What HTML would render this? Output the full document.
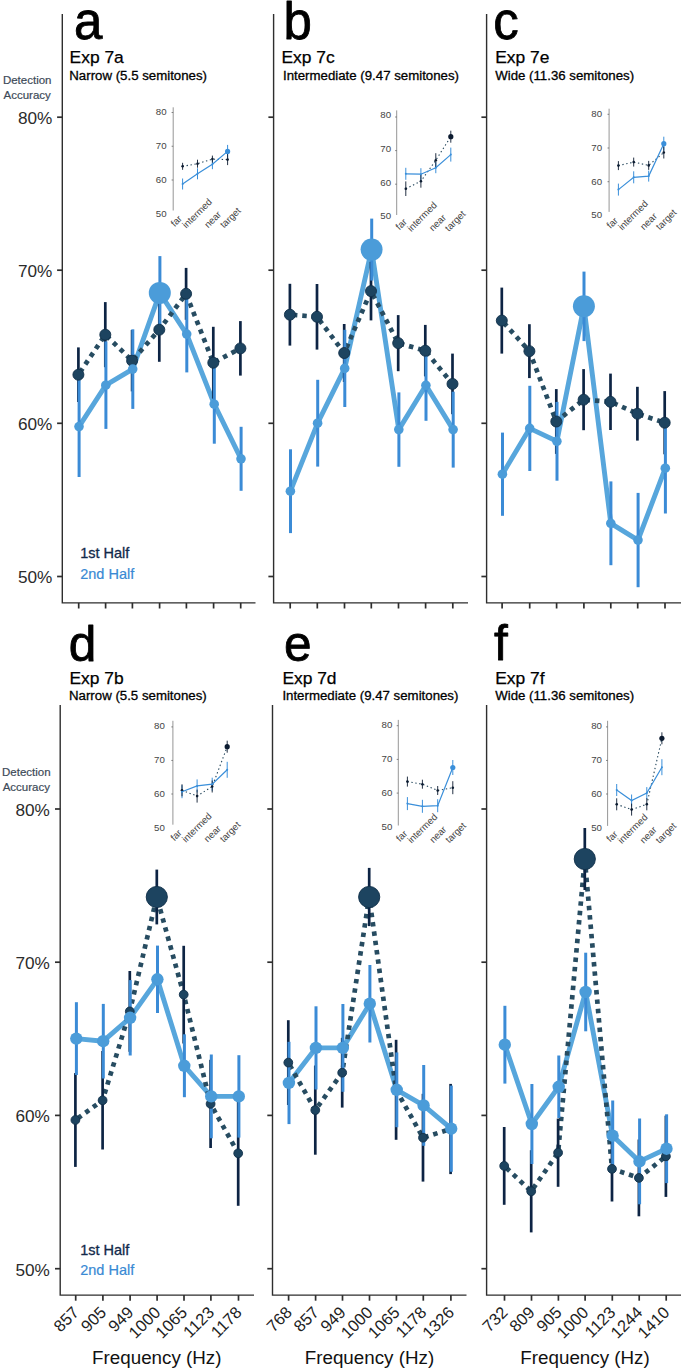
<!DOCTYPE html>
<html><head><meta charset="utf-8"><title>Figure</title>
<style>html,body{margin:0;padding:0;background:#fff}svg{display:block}</style>
</head><body>
<svg width="685" height="1370" viewBox="0 0 685 1370" font-family="Liberation Sans, Arial, Helvetica, sans-serif">
<rect width="685" height="1370" fill="#fff"/>
<g stroke="#2e2e2e" stroke-width="1.4" fill="none">
<path d="M62.3 14V602.9H255.5"/>
<path d="M57.099999999999994 117.2H62.3" stroke-width="1.7"/>
<path d="M57.099999999999994 270.2H62.3" stroke-width="1.7"/>
<path d="M57.099999999999994 423.3H62.3" stroke-width="1.7"/>
<path d="M57.099999999999994 576.5H62.3" stroke-width="1.7"/>
<path d="M78.7 602.9v5.6" stroke-width="1.7"/>
<path d="M105.6 602.9v5.6" stroke-width="1.7"/>
<path d="M132.4 602.9v5.6" stroke-width="1.7"/>
<path d="M159.60000000000002 602.9v5.6" stroke-width="1.7"/>
<path d="M186.4 602.9v5.6" stroke-width="1.7"/>
<path d="M213.60000000000002 602.9v5.6" stroke-width="1.7"/>
<path d="M240.70000000000002 602.9v5.6" stroke-width="1.7"/>
</g>
<path d="M79 426.6L105.8 385.2L132.7 369.1L159.8 292.9L186.7 334.1L214.2 404.2L241 458.8" fill="none" stroke="#57a6dc" stroke-width="4.9" stroke-linejoin="round" stroke-linecap="round"/>
<path d="M78.4 374.7L105.3 334.7L132.1 360.7L159.3 329.7L186.1 293.8L213.3 362.7L240.4 348.4" fill="none" stroke="#274c61" stroke-width="4.7" stroke-dasharray="4.5 4.9" stroke-dashoffset="-3" stroke-linejoin="round"/>
<g stroke="#0d2444" stroke-width="2.7">
<path d="M78.4 347.4V402.0"/>
<path d="M105.3 302.1V367.2"/>
<path d="M132.1 330.0V391.4"/>
<path d="M159.3 297.6V361.8"/>
<path d="M186.1 267.9V319.8"/>
<path d="M213.3 326.8V398.6"/>
<path d="M240.4 321.1V375.6"/>
</g>
<g stroke="#3b8bd6" stroke-width="3.0">
<path d="M79.1 376.2V477.0"/>
<path d="M105.89999999999999 341.4V428.9"/>
<path d="M132.79999999999998 329.3V408.9"/>
<path d="M159.9 256.1V329.7"/>
<path d="M186.79999999999998 295.8V372.4"/>
<path d="M214.29999999999998 364.7V443.7"/>
<path d="M241.1 426.8V490.8"/>
</g>
<g fill="#1d4460" stroke="#11304a" stroke-width="0.9">
<circle cx="78.4" cy="374.7" r="5.5"/>
<circle cx="105.3" cy="334.7" r="5.5"/>
<circle cx="132.1" cy="360.7" r="5.5"/>
<circle cx="159.3" cy="329.7" r="5.5"/>
<circle cx="186.1" cy="293.8" r="5.5"/>
<circle cx="213.3" cy="362.7" r="5.5"/>
<circle cx="240.4" cy="348.4" r="5.5"/>
</g>
<g fill="#4b9cd9">
<circle cx="79" cy="426.6" r="4.8"/>
<circle cx="105.8" cy="385.2" r="4.8"/>
<circle cx="132.7" cy="369.1" r="4.8"/>
<circle cx="159.8" cy="292.9" r="11"/>
<circle cx="186.7" cy="334.1" r="4.8"/>
<circle cx="214.2" cy="404.2" r="4.8"/>
<circle cx="241" cy="458.8" r="4.8"/>
</g>
<text x="73.9" y="39.2" font-size="51" fill="#000" stroke="#000" stroke-width="0.8" stroke-linejoin="round">a</text>
<text x="69.6" y="63.2" font-size="17.4" fill="#000" stroke="#000" stroke-width="0.25">Exp 7a</text>
<text x="69.3" y="79.7" font-size="13.25" fill="#000" stroke="#000" stroke-width="0.3">Narrow (5.5 semitones)</text>
<g stroke="#2e2e2e" stroke-width="1.4" fill="none">
<path d="M273.6 14V602.9H468"/>
<path d="M268.40000000000003 117.2H273.6" stroke-width="1.7"/>
<path d="M268.40000000000003 270.2H273.6" stroke-width="1.7"/>
<path d="M268.40000000000003 423.3H273.6" stroke-width="1.7"/>
<path d="M268.40000000000003 576.5H273.6" stroke-width="1.7"/>
<path d="M290.2 602.9v5.6" stroke-width="1.7"/>
<path d="M317.3 602.9v5.6" stroke-width="1.7"/>
<path d="M344.5 602.9v5.6" stroke-width="1.7"/>
<path d="M371.3 602.9v5.6" stroke-width="1.7"/>
<path d="M398.5 602.9v5.6" stroke-width="1.7"/>
<path d="M425.6 602.9v5.6" stroke-width="1.7"/>
<path d="M452.8 602.9v5.6" stroke-width="1.7"/>
</g>
<path d="M290.4 491.2L317.6 423.2L344.7 368.4L371.6 249.6L398.8 429.6L425.9 385.3L453.1 429.6" fill="none" stroke="#57a6dc" stroke-width="4.9" stroke-linejoin="round" stroke-linecap="round"/>
<path d="M289.9 314.7L317 316.8L344.2 353L371 291.1L398.2 343.1L425.3 350.7L452.5 383.9" fill="none" stroke="#274c61" stroke-width="4.7" stroke-dasharray="4.5 4.9" stroke-dashoffset="-3" stroke-linejoin="round"/>
<g stroke="#0d2444" stroke-width="2.7">
<path d="M289.9 283.8V345.6"/>
<path d="M317 284.0V349.6"/>
<path d="M344.2 324.0V382.0"/>
<path d="M371 261.8V320.4"/>
<path d="M398.2 315.1V371.2"/>
<path d="M425.3 324.9V376.4"/>
<path d="M452.5 353.6V414.2"/>
</g>
<g stroke="#3b8bd6" stroke-width="3.0">
<path d="M290.5 449.3V533.1"/>
<path d="M317.70000000000005 379.8V466.6"/>
<path d="M344.8 329.8V407.0"/>
<path d="M371.70000000000005 218.6V280.6"/>
<path d="M398.90000000000003 392.4V466.8"/>
<path d="M426.0 349.9V420.8"/>
<path d="M453.20000000000005 391.7V467.6"/>
</g>
<g fill="#1d4460" stroke="#11304a" stroke-width="0.9">
<circle cx="289.9" cy="314.7" r="5.5"/>
<circle cx="317" cy="316.8" r="5.5"/>
<circle cx="344.2" cy="353" r="5.5"/>
<circle cx="371" cy="291.1" r="5.5"/>
<circle cx="398.2" cy="343.1" r="5.5"/>
<circle cx="425.3" cy="350.7" r="5.5"/>
<circle cx="452.5" cy="383.9" r="5.5"/>
</g>
<g fill="#4b9cd9">
<circle cx="290.4" cy="491.2" r="4.8"/>
<circle cx="317.6" cy="423.2" r="4.8"/>
<circle cx="344.7" cy="368.4" r="4.8"/>
<circle cx="371.6" cy="249.6" r="11"/>
<circle cx="398.8" cy="429.6" r="4.8"/>
<circle cx="425.9" cy="385.3" r="4.8"/>
<circle cx="453.1" cy="429.6" r="4.8"/>
</g>
<text x="283.4" y="39.2" font-size="51" fill="#000" stroke="#000" stroke-width="0.8" stroke-linejoin="round">b</text>
<text x="281.5" y="63.2" font-size="17.4" fill="#000" stroke="#000" stroke-width="0.25">Exp 7c</text>
<text x="283.0" y="79.7" font-size="13.25" fill="#000" stroke="#000" stroke-width="0.3">Intermediate (9.47 semitones)</text>
<g stroke="#2e2e2e" stroke-width="1.4" fill="none">
<path d="M486.6 14V602.9H681"/>
<path d="M481.40000000000003 117.2H486.6" stroke-width="1.7"/>
<path d="M481.40000000000003 270.2H486.6" stroke-width="1.7"/>
<path d="M481.40000000000003 423.3H486.6" stroke-width="1.7"/>
<path d="M481.40000000000003 576.5H486.6" stroke-width="1.7"/>
<path d="M502.1 602.9v5.6" stroke-width="1.7"/>
<path d="M529.6999999999999 602.9v5.6" stroke-width="1.7"/>
<path d="M556.5999999999999 602.9v5.6" stroke-width="1.7"/>
<path d="M583.9 602.9v5.6" stroke-width="1.7"/>
<path d="M610.8 602.9v5.6" stroke-width="1.7"/>
<path d="M637.6999999999999 602.9v5.6" stroke-width="1.7"/>
<path d="M665.0 602.9v5.6" stroke-width="1.7"/>
</g>
<path d="M502.4 474.2L529.7 428.4L556.9 441.3L583.9 306.3L610.8 523.3L638 540.1L665.3 468.2" fill="none" stroke="#57a6dc" stroke-width="4.9" stroke-linejoin="round" stroke-linecap="round"/>
<path d="M501.8 320.6L529.4 351.2L556.3 421.5L583.6 399.7L610.5 401.8L637.4 413.7L664.7 422.7" fill="none" stroke="#274c61" stroke-width="4.7" stroke-dasharray="4.5 4.9" stroke-dashoffset="-3" stroke-linejoin="round"/>
<g stroke="#0d2444" stroke-width="2.7">
<path d="M501.8 287.6V353.6"/>
<path d="M529.4 324.2V378.1"/>
<path d="M556.3 389.1V453.9"/>
<path d="M583.6 369.1V430.2"/>
<path d="M610.5 373.6V430.0"/>
<path d="M637.4 386.8V440.6"/>
<path d="M664.7 391.1V454.3"/>
</g>
<g stroke="#3b8bd6" stroke-width="3.0">
<path d="M502.5 432.6V515.8"/>
<path d="M529.8000000000001 385.8V471.0"/>
<path d="M557.0 401.9V480.7"/>
<path d="M584.0 271.6V341.1"/>
<path d="M610.9 481.4V565.2"/>
<path d="M638.1 492.9V587.2"/>
<path d="M665.4 422.8V513.5"/>
</g>
<g fill="#1d4460" stroke="#11304a" stroke-width="0.9">
<circle cx="501.8" cy="320.6" r="5.5"/>
<circle cx="529.4" cy="351.2" r="5.5"/>
<circle cx="556.3" cy="421.5" r="5.5"/>
<circle cx="583.6" cy="399.7" r="5.5"/>
<circle cx="610.5" cy="401.8" r="5.5"/>
<circle cx="637.4" cy="413.7" r="5.5"/>
<circle cx="664.7" cy="422.7" r="5.5"/>
</g>
<g fill="#4b9cd9">
<circle cx="502.4" cy="474.2" r="4.8"/>
<circle cx="529.7" cy="428.4" r="4.8"/>
<circle cx="556.9" cy="441.3" r="4.8"/>
<circle cx="583.9" cy="306.3" r="11"/>
<circle cx="610.8" cy="523.3" r="4.8"/>
<circle cx="638" cy="540.1" r="4.8"/>
<circle cx="665.3" cy="468.2" r="4.8"/>
</g>
<text x="493.2" y="39.2" font-size="51" fill="#000" stroke="#000" stroke-width="0.8" stroke-linejoin="round">c</text>
<text x="495.2" y="63.2" font-size="17.4" fill="#000" stroke="#000" stroke-width="0.25">Exp 7e</text>
<text x="495.2" y="79.7" font-size="13.25" fill="#000" stroke="#000" stroke-width="0.3">Wide (11.36 semitones)</text>
<g stroke="#2e2e2e" stroke-width="1.4" fill="none">
<path d="M60.2 705V1295.1H254"/>
<path d="M55.0 809.0H60.2" stroke-width="1.7"/>
<path d="M55.0 962.2H60.2" stroke-width="1.7"/>
<path d="M55.0 1115.4H60.2" stroke-width="1.7"/>
<path d="M55.0 1268.7H60.2" stroke-width="1.7"/>
<path d="M75.7 1295.1v5.6" stroke-width="1.7"/>
<path d="M102.89999999999999 1295.1v5.6" stroke-width="1.7"/>
<path d="M130.10000000000002 1295.1v5.6" stroke-width="1.7"/>
<path d="M157.10000000000002 1295.1v5.6" stroke-width="1.7"/>
<path d="M184.0 1295.1v5.6" stroke-width="1.7"/>
<path d="M210.9 1295.1v5.6" stroke-width="1.7"/>
<path d="M238.5 1295.1v5.6" stroke-width="1.7"/>
</g>
<path d="M76.3 1038.6L103.2 1041.2L130.1 1017.8L157.4 979.3L184.3 1065.8L211.2 1096.4L238.8 1096.4" fill="none" stroke="#57a6dc" stroke-width="4.9" stroke-linejoin="round" stroke-linecap="round"/>
<path d="M75.4 1120L102.6 1100.3L129.8 1011.4L156.8 897L183.7 994.6L210.6 1103.9L238.2 1153.3" fill="none" stroke="#274c61" stroke-width="4.7" stroke-dasharray="4.5 4.9" stroke-dashoffset="-3" stroke-linejoin="round"/>
<g stroke="#0d2444" stroke-width="2.7">
<path d="M75.4 1073.1V1166.9"/>
<path d="M102.6 1051.0V1149.5"/>
<path d="M129.8 971.0V1051.8"/>
<path d="M156.8 869.6V924.4"/>
<path d="M183.7 945.8V1043.5"/>
<path d="M210.6 1059.8V1148.0"/>
<path d="M238.2 1100.8V1205.8"/>
</g>
<g stroke="#3b8bd6" stroke-width="3.0">
<path d="M76.39999999999999 1002.2V1075.0"/>
<path d="M103.3 1003.9V1078.5"/>
<path d="M130.2 980.1V1055.5"/>
<path d="M157.5 945.6V1013.0"/>
<path d="M184.4 1034.3V1097.2"/>
<path d="M211.29999999999998 1054.5V1138.3"/>
<path d="M238.9 1055.2V1137.6"/>
</g>
<g fill="#1d4460" stroke="#11304a" stroke-width="0.9">
<circle cx="75.4" cy="1120" r="4.4"/>
<circle cx="102.6" cy="1100.3" r="4.4"/>
<circle cx="129.8" cy="1011.4" r="4.4"/>
<circle cx="156.8" cy="897" r="10.6"/>
<circle cx="183.7" cy="994.6" r="4.4"/>
<circle cx="210.6" cy="1103.9" r="4.4"/>
<circle cx="238.2" cy="1153.3" r="4.4"/>
</g>
<g fill="#4b9cd9">
<circle cx="76.3" cy="1038.6" r="6.2"/>
<circle cx="103.2" cy="1041.2" r="6.2"/>
<circle cx="130.1" cy="1017.8" r="6.2"/>
<circle cx="157.4" cy="979.3" r="6.2"/>
<circle cx="184.3" cy="1065.8" r="6.2"/>
<circle cx="211.2" cy="1096.4" r="6.2"/>
<circle cx="238.8" cy="1096.4" r="6.2"/>
</g>
<text x="68.8" y="660.5" font-size="49.6" fill="#000" stroke="#000" stroke-width="0.8" stroke-linejoin="round">d</text>
<text x="69.5" y="683.6" font-size="17.4" fill="#000" stroke="#000" stroke-width="0.25">Exp 7b</text>
<text x="69.0" y="699.6" font-size="13.25" fill="#000" stroke="#000" stroke-width="0.3">Narrow (5.5 semitones)</text>
<g stroke="#2e2e2e" stroke-width="1.4" fill="none">
<path d="M272.5 705V1295.1H466.5"/>
<path d="M267.3 809.0H272.5" stroke-width="1.7"/>
<path d="M267.3 962.2H272.5" stroke-width="1.7"/>
<path d="M267.3 1115.4H272.5" stroke-width="1.7"/>
<path d="M267.3 1268.7H272.5" stroke-width="1.7"/>
<path d="M288.6 1295.1v5.6" stroke-width="1.7"/>
<path d="M315.6 1295.1v5.6" stroke-width="1.7"/>
<path d="M342.5 1295.1v5.6" stroke-width="1.7"/>
<path d="M369.5 1295.1v5.6" stroke-width="1.7"/>
<path d="M396.40000000000003 1295.1v5.6" stroke-width="1.7"/>
<path d="M423.3 1295.1v5.6" stroke-width="1.7"/>
<path d="M450.90000000000003 1295.1v5.6" stroke-width="1.7"/>
</g>
<path d="M288.9 1082.9L315.9 1047.9L342.8 1047.9L369.8 1003.7L396.7 1089.8L423.6 1105.4L451.2 1128.7" fill="none" stroke="#57a6dc" stroke-width="4.9" stroke-linejoin="round" stroke-linecap="round"/>
<path d="M288.3 1062.6L315.3 1110.1L342.2 1072.7L369.2 897L396.1 1089.8L423 1137.7L450.6 1129" fill="none" stroke="#274c61" stroke-width="4.7" stroke-dasharray="4.5 4.9" stroke-dashoffset="-3" stroke-linejoin="round"/>
<g stroke="#0d2444" stroke-width="2.7">
<path d="M288.3 1020.2V1105.0"/>
<path d="M315.3 1065.5V1154.7"/>
<path d="M342.2 1037.8V1107.6"/>
<path d="M369.2 867.9V926.1"/>
<path d="M396.1 1039.8V1139.8"/>
<path d="M423 1093.8V1181.6"/>
<path d="M450.6 1083.9V1174.1"/>
</g>
<g stroke="#3b8bd6" stroke-width="3.0">
<path d="M289.0 1041.8V1124.1"/>
<path d="M316.0 1006.3V1089.5"/>
<path d="M342.90000000000003 1004.0V1091.8"/>
<path d="M369.90000000000003 965.0V1042.5"/>
<path d="M396.8 1052.4V1127.2"/>
<path d="M423.70000000000005 1065.0V1145.8"/>
<path d="M451.3 1085.6V1171.8"/>
</g>
<g fill="#1d4460" stroke="#11304a" stroke-width="0.9">
<circle cx="288.3" cy="1062.6" r="4.4"/>
<circle cx="315.3" cy="1110.1" r="4.4"/>
<circle cx="342.2" cy="1072.7" r="4.4"/>
<circle cx="369.2" cy="897" r="10.6"/>
<circle cx="396.1" cy="1089.8" r="4.4"/>
<circle cx="423" cy="1137.7" r="4.4"/>
<circle cx="450.6" cy="1129" r="4.4"/>
</g>
<g fill="#4b9cd9">
<circle cx="288.9" cy="1082.9" r="6.2"/>
<circle cx="315.9" cy="1047.9" r="6.2"/>
<circle cx="342.8" cy="1047.9" r="6.2"/>
<circle cx="369.8" cy="1003.7" r="6.2"/>
<circle cx="396.7" cy="1089.8" r="6.2"/>
<circle cx="423.6" cy="1105.4" r="6.2"/>
<circle cx="451.2" cy="1128.7" r="6.2"/>
</g>
<text x="284.0" y="660.7" font-size="49.6" fill="#000" stroke="#000" stroke-width="0.8" stroke-linejoin="round">e</text>
<text x="282.4" y="683.6" font-size="17.4" fill="#000" stroke="#000" stroke-width="0.25">Exp 7d</text>
<text x="282.4" y="699.6" font-size="13.25" fill="#000" stroke="#000" stroke-width="0.3">Intermediate (9.47 semitones)</text>
<g stroke="#2e2e2e" stroke-width="1.4" fill="none">
<path d="M486.6 705V1295.1H681"/>
<path d="M481.40000000000003 809.0H486.6" stroke-width="1.7"/>
<path d="M481.40000000000003 962.2H486.6" stroke-width="1.7"/>
<path d="M481.40000000000003 1115.4H486.6" stroke-width="1.7"/>
<path d="M481.40000000000003 1268.7H486.6" stroke-width="1.7"/>
<path d="M504.5 1295.1v5.6" stroke-width="1.7"/>
<path d="M531.5 1295.1v5.6" stroke-width="1.7"/>
<path d="M558.4 1295.1v5.6" stroke-width="1.7"/>
<path d="M585.0999999999999 1295.1v5.6" stroke-width="1.7"/>
<path d="M612.3 1295.1v5.6" stroke-width="1.7"/>
<path d="M639.1999999999999 1295.1v5.6" stroke-width="1.7"/>
<path d="M666.1999999999999 1295.1v5.6" stroke-width="1.7"/>
</g>
<path d="M504.8 1044.7L531.8 1124L558.7 1086.8L585.6 992L612.6 1135.7L639.5 1161.4L666.5 1148.7" fill="none" stroke="#57a6dc" stroke-width="4.9" stroke-linejoin="round" stroke-linecap="round"/>
<path d="M504.2 1165.9L531.2 1191.3L558.1 1152.7L584.8 859L612 1168.9L638.9 1177.9L665.9 1156.3" fill="none" stroke="#274c61" stroke-width="4.7" stroke-dasharray="4.5 4.9" stroke-dashoffset="-3" stroke-linejoin="round"/>
<g stroke="#0d2444" stroke-width="2.7">
<path d="M504.2 1127.0V1204.8"/>
<path d="M531.2 1150.2V1232.4"/>
<path d="M558.1 1118.6V1186.8"/>
<path d="M584.8 828.0V890.0"/>
<path d="M612 1136.3V1201.5"/>
<path d="M638.9 1139.5V1216.3"/>
<path d="M665.9 1115.7V1196.9"/>
</g>
<g stroke="#3b8bd6" stroke-width="3.0">
<path d="M504.90000000000003 1005.8V1083.6"/>
<path d="M531.9 1084.0V1164.0"/>
<path d="M558.8000000000001 1055.5V1118.0"/>
<path d="M585.7 952.7V1031.3"/>
<path d="M612.7 1100.5V1170.9"/>
<path d="M639.6 1118.5V1204.3"/>
<path d="M666.6 1114.3V1183.1"/>
</g>
<g fill="#1d4460" stroke="#11304a" stroke-width="0.9">
<circle cx="504.2" cy="1165.9" r="4.4"/>
<circle cx="531.2" cy="1191.3" r="4.4"/>
<circle cx="558.1" cy="1152.7" r="4.4"/>
<circle cx="584.8" cy="859" r="10.6"/>
<circle cx="612" cy="1168.9" r="4.4"/>
<circle cx="638.9" cy="1177.9" r="4.4"/>
<circle cx="665.9" cy="1156.3" r="4.4"/>
</g>
<g fill="#4b9cd9">
<circle cx="504.8" cy="1044.7" r="6.2"/>
<circle cx="531.8" cy="1124" r="6.2"/>
<circle cx="558.7" cy="1086.8" r="6.2"/>
<circle cx="585.6" cy="992" r="6.2"/>
<circle cx="612.6" cy="1135.7" r="6.2"/>
<circle cx="639.5" cy="1161.4" r="6.2"/>
<circle cx="666.5" cy="1148.7" r="6.2"/>
</g>
<text x="493.9" y="660.4" font-size="49.6" fill="#000" stroke="#000" stroke-width="0.8" stroke-linejoin="round">f</text>
<text x="495.2" y="683.6" font-size="17.4" fill="#000" stroke="#000" stroke-width="0.25">Exp 7f</text>
<text x="495.2" y="699.6" font-size="13.25" fill="#000" stroke="#000" stroke-width="0.3">Wide (11.36 semitones)</text>
<path d="M173.2 107.3V210.5" stroke="#8a8a8a" stroke-width="0.9" fill="none"/>
<g font-size="9.7" fill="#454545" text-anchor="end">
<path d="M171.6 112.5H173.2" stroke="#555" stroke-width="0.7"/>
<text x="166.6" y="115.0">80</text>
<path d="M171.6 146.25H173.2" stroke="#555" stroke-width="0.7"/>
<text x="166.6" y="149.1">70</text>
<path d="M171.6 180.0H173.2" stroke="#555" stroke-width="0.7"/>
<text x="166.6" y="183.2">60</text>
<text x="166.6" y="217.2">50</text>
</g>
<g font-size="9.6" fill="#454545" text-anchor="middle">
<text transform="translate(176.8,221.4) rotate(-45)" y="2.6">far</text>
<text transform="translate(197.6,213.8) rotate(-45)" y="2.6">intermed</text>
<text transform="translate(213.1,219.9) rotate(-45)" y="2.6">near</text>
<text transform="translate(230.8,218.1) rotate(-45)" y="2.6">target</text>
</g>
<g stroke="#3a8fda" stroke-width="1">
<path d="M182.6 178.5V189.5"/>
<path d="M197.5 168.3V179.3"/>
<path d="M212.4 159.2V169.2"/>
<path d="M227.6 144.9V157.9"/>
</g>
<g stroke="#0c1b30" stroke-width="0.9">
<path d="M182.6 162.8V169.8"/>
<path d="M197.5 159.7V167.7"/>
<path d="M212.4 155.6V162.6"/>
<path d="M227.6 154.1V165.1"/>
</g>
<path d="M182.6 166.3L197.5 163.7L212.4 159.1L227.6 159.6" fill="none" stroke="#24465c" stroke-width="1.1" stroke-dasharray="1.4 2.6"/>
<path d="M182.6 184L197.5 173.8L212.4 164.2L227.6 151.4" fill="none" stroke="#3a8fda" stroke-width="1.2"/>
<circle cx="182.6" cy="166.3" r="1.3" fill="#0c1b30"/>
<circle cx="197.5" cy="163.7" r="1.3" fill="#0c1b30"/>
<circle cx="212.4" cy="159.1" r="1.3" fill="#0c1b30"/>
<circle cx="227.6" cy="159.6" r="1.3" fill="#0c1b30"/>
<circle cx="182.6" cy="184" r="1.0" fill="#3a8fda"/>
<circle cx="197.5" cy="173.8" r="1.0" fill="#3a8fda"/>
<circle cx="212.4" cy="164.2" r="1.0" fill="#3a8fda"/>
<circle cx="227.6" cy="151.4" r="2.6" fill="#3a8fda"/>
<path d="M396.7 110.4V215" stroke="#8a8a8a" stroke-width="0.9" fill="none"/>
<g font-size="9.7" fill="#454545" text-anchor="end">
<path d="M395.09999999999997 117.0H396.7" stroke="#555" stroke-width="0.7"/>
<text x="391.1" y="117.8">80</text>
<path d="M395.09999999999997 150.6H396.7" stroke="#555" stroke-width="0.7"/>
<text x="391.1" y="151.6">70</text>
<path d="M395.09999999999997 184.2H396.7" stroke="#555" stroke-width="0.7"/>
<text x="391.1" y="185.5">60</text>
<text x="391.1" y="219.3">50</text>
</g>
<g font-size="9.6" fill="#454545" text-anchor="middle">
<text transform="translate(401.7,224.7) rotate(-45)" y="2.6">far</text>
<text transform="translate(422.5,217.1) rotate(-45)" y="2.6">intermed</text>
<text transform="translate(438.0,223.2) rotate(-45)" y="2.6">near</text>
<text transform="translate(455.7,221.4) rotate(-45)" y="2.6">target</text>
</g>
<g stroke="#3a8fda" stroke-width="1">
<path d="M405.8 167.8V179.8"/>
<path d="M420.9 168.2V180.2"/>
<path d="M435.8 162.2V173.2"/>
<path d="M450.8 147.6V161.6"/>
</g>
<g stroke="#0c1b30" stroke-width="0.9">
<path d="M405.8 181.39999999999998V196.0"/>
<path d="M420.9 174.7V187.7"/>
<path d="M435.8 153.2V167.2"/>
<path d="M450.8 130.7V142.7"/>
</g>
<path d="M405.8 188.7L420.9 181.2L435.8 160.2L450.8 136.7" fill="none" stroke="#24465c" stroke-width="1.1" stroke-dasharray="1.4 2.6"/>
<path d="M405.8 173.8L420.9 174.2L435.8 167.7L450.8 154.6" fill="none" stroke="#3a8fda" stroke-width="1.2"/>
<circle cx="405.8" cy="188.7" r="1.3" fill="#0c1b30"/>
<circle cx="420.9" cy="181.2" r="1.3" fill="#0c1b30"/>
<circle cx="435.8" cy="160.2" r="1.3" fill="#0c1b30"/>
<circle cx="450.8" cy="136.7" r="2.6" fill="#0c1b30"/>
<circle cx="405.8" cy="173.8" r="1.0" fill="#3a8fda"/>
<circle cx="420.9" cy="174.2" r="1.0" fill="#3a8fda"/>
<circle cx="435.8" cy="167.7" r="1.0" fill="#3a8fda"/>
<circle cx="450.8" cy="154.6" r="1.0" fill="#3a8fda"/>
<path d="M609.1 108.7V211.9" stroke="#8a8a8a" stroke-width="0.9" fill="none"/>
<g font-size="9.7" fill="#454545" text-anchor="end">
<path d="M607.5 114.3H609.1" stroke="#555" stroke-width="0.7"/>
<text x="602.1" y="116.9">80</text>
<path d="M607.5 148.0H609.1" stroke="#555" stroke-width="0.7"/>
<text x="602.1" y="150.7">70</text>
<path d="M607.5 181.7H609.1" stroke="#555" stroke-width="0.7"/>
<text x="602.1" y="184.6">60</text>
<text x="602.1" y="218.4">50</text>
</g>
<g font-size="9.6" fill="#454545" text-anchor="middle">
<text transform="translate(612.7,223.3) rotate(-45)" y="2.6">far</text>
<text transform="translate(633.5,215.7) rotate(-45)" y="2.6">intermed</text>
<text transform="translate(649.0,221.8) rotate(-45)" y="2.6">near</text>
<text transform="translate(666.7,220.0) rotate(-45)" y="2.6">target</text>
</g>
<g stroke="#3a8fda" stroke-width="1">
<path d="M618.4 183.6V195.6"/>
<path d="M633.7 171.3V183.3"/>
<path d="M648.7 170.6V181.6"/>
<path d="M663.8 136.7V150.7"/>
</g>
<g stroke="#0c1b30" stroke-width="0.9">
<path d="M618.4 161.1V170.1"/>
<path d="M633.7 157.6V166.6"/>
<path d="M648.7 160.9V169.9"/>
<path d="M663.8 146.5V158.5"/>
</g>
<path d="M618.4 165.6L633.7 162.1L648.7 165.4L663.8 152.5" fill="none" stroke="#24465c" stroke-width="1.1" stroke-dasharray="1.4 2.6"/>
<path d="M618.4 189.6L633.7 177.3L648.7 176.1L663.8 143.7" fill="none" stroke="#3a8fda" stroke-width="1.2"/>
<circle cx="618.4" cy="165.6" r="1.3" fill="#0c1b30"/>
<circle cx="633.7" cy="162.1" r="1.3" fill="#0c1b30"/>
<circle cx="648.7" cy="165.4" r="1.3" fill="#0c1b30"/>
<circle cx="663.8" cy="152.5" r="1.3" fill="#0c1b30"/>
<circle cx="618.4" cy="189.6" r="1.0" fill="#3a8fda"/>
<circle cx="633.7" cy="177.3" r="1.0" fill="#3a8fda"/>
<circle cx="648.7" cy="176.1" r="1.0" fill="#3a8fda"/>
<circle cx="663.8" cy="143.7" r="2.6" fill="#3a8fda"/>
<path d="M172.9 720.8V824.7" stroke="#8a8a8a" stroke-width="0.9" fill="none"/>
<g font-size="9.7" fill="#454545" text-anchor="end">
<path d="M171.3 726.9H172.9" stroke="#555" stroke-width="0.7"/>
<text x="164.9" y="729.2">80</text>
<path d="M171.3 760.45H172.9" stroke="#555" stroke-width="0.7"/>
<text x="164.9" y="763.0">70</text>
<path d="M171.3 794.0H172.9" stroke="#555" stroke-width="0.7"/>
<text x="164.9" y="796.8">60</text>
<text x="164.9" y="830.6">50</text>
</g>
<g font-size="9.6" fill="#454545" text-anchor="middle">
<text transform="translate(176.5,835.6) rotate(-45)" y="2.6">far</text>
<text transform="translate(197.3,828.0) rotate(-45)" y="2.6">intermed</text>
<text transform="translate(212.8,834.1) rotate(-45)" y="2.6">near</text>
<text transform="translate(230.5,832.3) rotate(-45)" y="2.6">target</text>
</g>
<g stroke="#3a8fda" stroke-width="1">
<path d="M182 785.2V798.2"/>
<path d="M197.1 779.4V792.4"/>
<path d="M212.2 777.7V790.7"/>
<path d="M227.2 761.8V777.8"/>
</g>
<g stroke="#0c1b30" stroke-width="0.9">
<path d="M182 784.3V796.3"/>
<path d="M197.1 789.6V802.6"/>
<path d="M212.2 780.5V792.5"/>
<path d="M227.2 740.7V752.7"/>
</g>
<path d="M182 790.3L197.1 796.1L212.2 786.5L227.2 746.7" fill="none" stroke="#24465c" stroke-width="1.1" stroke-dasharray="1.4 2.6"/>
<path d="M182 791.7L197.1 785.9L212.2 784.2L227.2 769.8" fill="none" stroke="#3a8fda" stroke-width="1.2"/>
<circle cx="182" cy="790.3" r="1.3" fill="#0c1b30"/>
<circle cx="197.1" cy="796.1" r="1.3" fill="#0c1b30"/>
<circle cx="212.2" cy="786.5" r="1.3" fill="#0c1b30"/>
<circle cx="227.2" cy="746.7" r="2.6" fill="#0c1b30"/>
<circle cx="182" cy="791.7" r="1.0" fill="#3a8fda"/>
<circle cx="197.1" cy="785.9" r="1.0" fill="#3a8fda"/>
<circle cx="212.2" cy="784.2" r="1.0" fill="#3a8fda"/>
<circle cx="227.2" cy="769.8" r="1.0" fill="#3a8fda"/>
<path d="M398.3 719.9V825.5" stroke="#8a8a8a" stroke-width="0.9" fill="none"/>
<g font-size="9.7" fill="#454545" text-anchor="end">
<path d="M396.7 725.7H398.3" stroke="#555" stroke-width="0.7"/>
<text x="392.3" y="727.8">80</text>
<path d="M396.7 759.4000000000001H398.3" stroke="#555" stroke-width="0.7"/>
<text x="392.3" y="761.8">70</text>
<path d="M396.7 793.1H398.3" stroke="#555" stroke-width="0.7"/>
<text x="392.3" y="795.8">60</text>
<text x="392.3" y="829.9">50</text>
</g>
<g font-size="9.6" fill="#454545" text-anchor="middle">
<text transform="translate(402.1,836.4) rotate(-45)" y="2.6">far</text>
<text transform="translate(422.9,828.8) rotate(-45)" y="2.6">intermed</text>
<text transform="translate(438.4,834.9) rotate(-45)" y="2.6">near</text>
<text transform="translate(456.1,833.1) rotate(-45)" y="2.6">target</text>
</g>
<g stroke="#3a8fda" stroke-width="1">
<path d="M407.4 797.1V810.1"/>
<path d="M422.4 799.8V812.8"/>
<path d="M437.7 799.2V812.2"/>
<path d="M452.8 760.0V775.0"/>
</g>
<g stroke="#0c1b30" stroke-width="0.9">
<path d="M407.4 776.6V786.6"/>
<path d="M422.4 779.7V788.7"/>
<path d="M437.7 786.0V795.0"/>
<path d="M452.8 781.2V794.2"/>
</g>
<path d="M407.4 781.6L422.4 784.2L437.7 790.5L452.8 787.7" fill="none" stroke="#24465c" stroke-width="1.1" stroke-dasharray="1.4 2.6"/>
<path d="M407.4 803.6L422.4 806.3L437.7 805.7L452.8 767.5" fill="none" stroke="#3a8fda" stroke-width="1.2"/>
<circle cx="407.4" cy="781.6" r="1.3" fill="#0c1b30"/>
<circle cx="422.4" cy="784.2" r="1.3" fill="#0c1b30"/>
<circle cx="437.7" cy="790.5" r="1.3" fill="#0c1b30"/>
<circle cx="452.8" cy="787.7" r="1.3" fill="#0c1b30"/>
<circle cx="407.4" cy="803.6" r="1.0" fill="#3a8fda"/>
<circle cx="422.4" cy="806.3" r="1.0" fill="#3a8fda"/>
<circle cx="437.7" cy="805.7" r="1.0" fill="#3a8fda"/>
<circle cx="452.8" cy="767.5" r="2.6" fill="#3a8fda"/>
<path d="M607.6 720.8V825.9" stroke="#8a8a8a" stroke-width="0.9" fill="none"/>
<g font-size="9.7" fill="#454545" text-anchor="end">
<path d="M606.0 726.9H607.6" stroke="#555" stroke-width="0.7"/>
<text x="602.0" y="728.6">80</text>
<path d="M606.0 760.45H607.6" stroke="#555" stroke-width="0.7"/>
<text x="602.0" y="762.7">70</text>
<path d="M606.0 794.0H607.6" stroke="#555" stroke-width="0.7"/>
<text x="602.0" y="796.9">60</text>
<text x="602.0" y="831.1">50</text>
</g>
<g font-size="9.6" fill="#454545" text-anchor="middle">
<text transform="translate(612.4,836.8) rotate(-45)" y="2.6">far</text>
<text transform="translate(633.2,829.2) rotate(-45)" y="2.6">intermed</text>
<text transform="translate(648.7,835.3) rotate(-45)" y="2.6">near</text>
<text transform="translate(666.4,833.5) rotate(-45)" y="2.6">target</text>
</g>
<g stroke="#3a8fda" stroke-width="1">
<path d="M616.7 784V796"/>
<path d="M631.6 794.5V806.5"/>
<path d="M646.8 787.1V799.1"/>
<path d="M661.9 759.2V775.2"/>
</g>
<g stroke="#0c1b30" stroke-width="0.9">
<path d="M616.7 798.3V810.3"/>
<path d="M631.6 803.6V815.6"/>
<path d="M646.8 798.3V810.3"/>
<path d="M661.9 732.3V744.3"/>
</g>
<path d="M616.7 804.3L631.6 809.6L646.8 804.3L661.9 738.3" fill="none" stroke="#24465c" stroke-width="1.1" stroke-dasharray="1.4 2.6"/>
<path d="M616.7 790L631.6 800.5L646.8 793.1L661.9 767.2" fill="none" stroke="#3a8fda" stroke-width="1.2"/>
<circle cx="616.7" cy="804.3" r="1.3" fill="#0c1b30"/>
<circle cx="631.6" cy="809.6" r="1.3" fill="#0c1b30"/>
<circle cx="646.8" cy="804.3" r="1.3" fill="#0c1b30"/>
<circle cx="661.9" cy="738.3" r="2.6" fill="#0c1b30"/>
<circle cx="616.7" cy="790" r="1.0" fill="#3a8fda"/>
<circle cx="631.6" cy="800.5" r="1.0" fill="#3a8fda"/>
<circle cx="646.8" cy="793.1" r="1.0" fill="#3a8fda"/>
<circle cx="661.9" cy="767.2" r="1.0" fill="#3a8fda"/>
<text x="52.4" y="124.10000000000001" font-size="17.2" fill="#2b2b2b" text-anchor="end">80%</text>
<text x="52.4" y="277.09999999999997" font-size="17.2" fill="#2b2b2b" text-anchor="end">70%</text>
<text x="52.4" y="430.2" font-size="17.2" fill="#2b2b2b" text-anchor="end">60%</text>
<text x="52.4" y="583.4" font-size="17.2" fill="#2b2b2b" text-anchor="end">50%</text>
<text x="49.9" y="815.9" font-size="17.2" fill="#2b2b2b" text-anchor="end">80%</text>
<text x="49.9" y="969.1" font-size="17.2" fill="#2b2b2b" text-anchor="end">70%</text>
<text x="49.9" y="1122.3000000000002" font-size="17.2" fill="#2b2b2b" text-anchor="end">60%</text>
<text x="49.9" y="1275.6000000000001" font-size="17.2" fill="#2b2b2b" text-anchor="end">50%</text>
<g font-size="11.5" fill="#3d4a58" stroke="#3d4a58" stroke-width="0.2" text-anchor="middle">
<text x="27.2" y="83.8">Detection</text><text x="27.2" y="98.5">Accuracy</text>
<text x="26.3" y="775.8">Detection</text><text x="26.3" y="790.5">Accuracy</text>
</g>
<text x="80.2" y="558.3" font-size="14.5" fill="#12294a" stroke="#12294a" stroke-width="0.3">1st Half</text>
<text x="80.2" y="578.5" font-size="14.5" fill="#3a8ad4" stroke="#3a8ad4" stroke-width="0.2">2nd Half</text>
<text x="80.2" y="1254.5" font-size="14.5" fill="#12294a" stroke="#12294a" stroke-width="0.3">1st Half</text>
<text x="80.2" y="1274.7" font-size="14.5" fill="#3a8ad4" stroke="#3a8ad4" stroke-width="0.2">2nd Half</text>
<text transform="translate(80.0,1313.6) rotate(-45)" font-size="16.5" fill="#222" text-anchor="end">857</text>
<text transform="translate(107.19999999999999,1313.6) rotate(-45)" font-size="16.5" fill="#222" text-anchor="end">905</text>
<text transform="translate(134.4,1313.6) rotate(-45)" font-size="16.5" fill="#222" text-anchor="end">949</text>
<text transform="translate(161.4,1313.6) rotate(-45)" font-size="16.5" fill="#222" text-anchor="end">1000</text>
<text transform="translate(188.29999999999998,1313.6) rotate(-45)" font-size="16.5" fill="#222" text-anchor="end">1065</text>
<text transform="translate(215.2,1313.6) rotate(-45)" font-size="16.5" fill="#222" text-anchor="end">1123</text>
<text transform="translate(242.79999999999998,1313.6) rotate(-45)" font-size="16.5" fill="#222" text-anchor="end">1178</text>
<text x="156.8" y="1364.3" font-size="18.8" fill="#111" text-anchor="middle">Frequency (Hz)</text>
<text transform="translate(292.90000000000003,1313.6) rotate(-45)" font-size="16.5" fill="#222" text-anchor="end">768</text>
<text transform="translate(319.90000000000003,1313.6) rotate(-45)" font-size="16.5" fill="#222" text-anchor="end">857</text>
<text transform="translate(346.8,1313.6) rotate(-45)" font-size="16.5" fill="#222" text-anchor="end">949</text>
<text transform="translate(373.8,1313.6) rotate(-45)" font-size="16.5" fill="#222" text-anchor="end">1000</text>
<text transform="translate(400.70000000000005,1313.6) rotate(-45)" font-size="16.5" fill="#222" text-anchor="end">1065</text>
<text transform="translate(427.6,1313.6) rotate(-45)" font-size="16.5" fill="#222" text-anchor="end">1178</text>
<text transform="translate(455.20000000000005,1313.6) rotate(-45)" font-size="16.5" fill="#222" text-anchor="end">1326</text>
<text x="369.45000000000005" y="1364.3" font-size="18.8" fill="#111" text-anchor="middle">Frequency (Hz)</text>
<text transform="translate(508.8,1313.6) rotate(-45)" font-size="16.5" fill="#222" text-anchor="end">732</text>
<text transform="translate(535.8000000000001,1313.6) rotate(-45)" font-size="16.5" fill="#222" text-anchor="end">809</text>
<text transform="translate(562.7,1313.6) rotate(-45)" font-size="16.5" fill="#222" text-anchor="end">905</text>
<text transform="translate(589.4,1313.6) rotate(-45)" font-size="16.5" fill="#222" text-anchor="end">1000</text>
<text transform="translate(616.6,1313.6) rotate(-45)" font-size="16.5" fill="#222" text-anchor="end">1123</text>
<text transform="translate(643.5,1313.6) rotate(-45)" font-size="16.5" fill="#222" text-anchor="end">1244</text>
<text transform="translate(670.5,1313.6) rotate(-45)" font-size="16.5" fill="#222" text-anchor="end">1410</text>
<text x="585.05" y="1364.3" font-size="18.8" fill="#111" text-anchor="middle">Frequency (Hz)</text>
</svg>
</body></html>
